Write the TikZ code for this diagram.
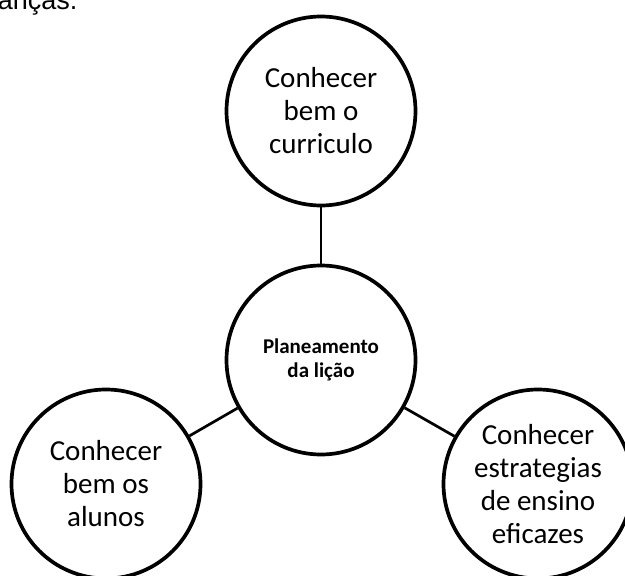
\documentclass[tikz,border=0pt]{standalone}
\usepackage{fontspec}
\setmainfont{Carlito}
\newfontfamily\pagefont{Liberation Sans}
\usetikzlibrary{positioning}
\tikzset{
  lessonmap/.style={
	line width=2.7pt, % the links between the circles
	node distance=249pt, % centre to centre, top circle to middle circle
	topic/.style={circle, draw, line width=3.7pt, minimum size=189pt, inner sep=0pt, align=center, font=\fontsize{29}{33}\selectfont}, % every circle of the map
	core/.style={font=\bfseries\fontsize{21}{24}\selectfont}, % the middle circle
  }
}

\begin{document}
\begin{tikzpicture}[lessonmap]
\useasboundingbox (0,0) rectangle (625pt,-576pt);
\node[anchor=base west, inner sep=0pt, font=\pagefont\fontsize{27}{30}\selectfont] (resto) at (-3.5pt,-9pt) {anças.};

\node[topic, core] (plan) at (321pt,-360pt) {Planeamento\\da lição};
\node[topic, above of=plan, yshift=0pt, xshift=0pt] (curriculo) {Conhecer\\bem o\\curriculo};
\node[topic, below of=plan, node distance=124pt, xshift=-215pt] (alunos) {Conhecer\\bem os\\alunos};
\node[topic, below of=plan, node distance=124pt, xshift=217pt] (estrategias) {Conhecer\\estrategias\\de ensino\\eficazes};

\draw   (plan) edge (curriculo)
	(plan) edge (alunos)
	(plan) edge (estrategias)
;
\end{tikzpicture}
\end{document}
